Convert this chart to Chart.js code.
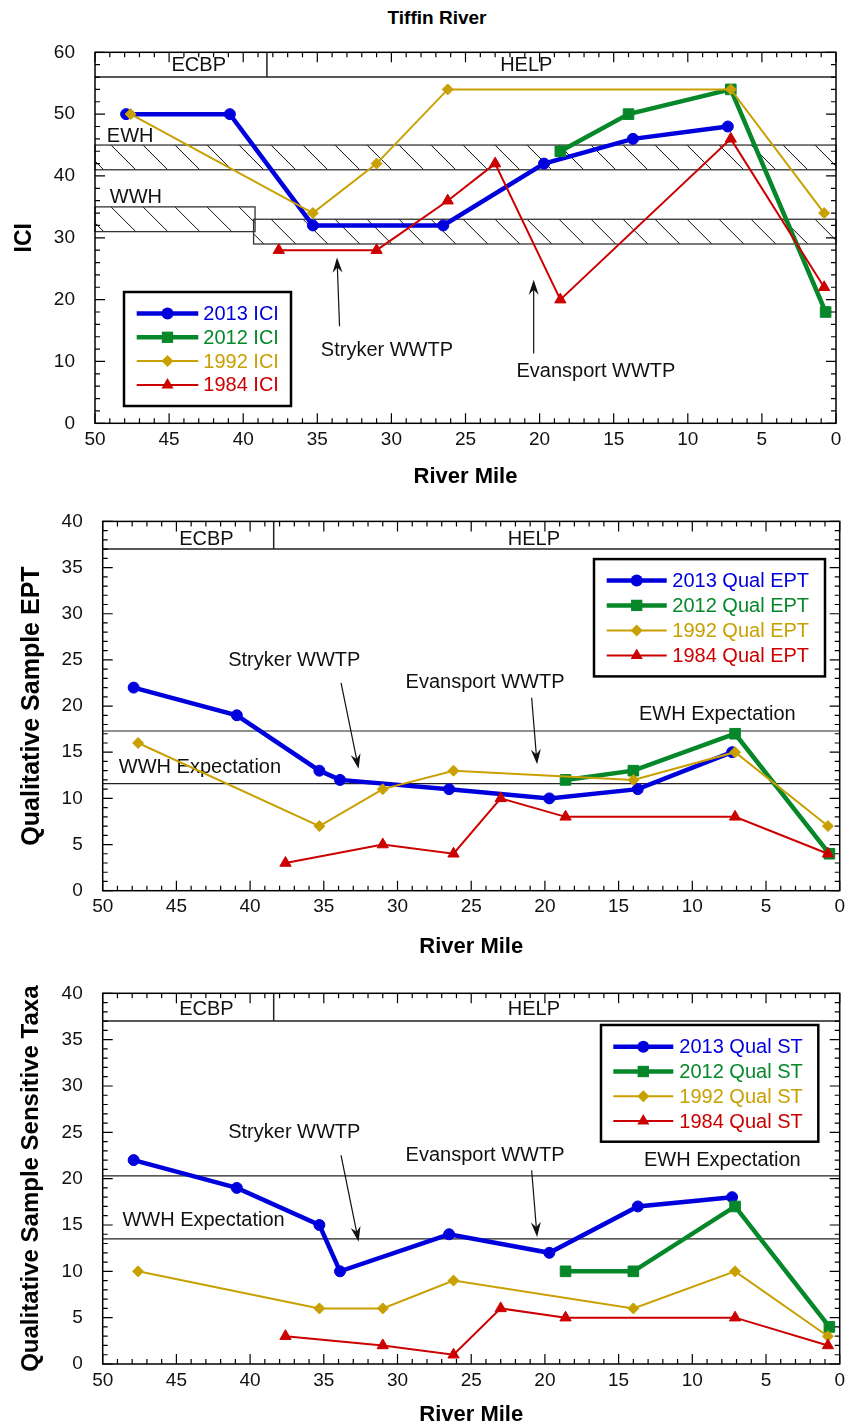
<!DOCTYPE html>
<html>
<head>
<meta charset="utf-8">
<title>Tiffin River</title>
<script src="https://cdn.jsdelivr.net/npm/chart.js@4.4.1/dist/chart.umd.min.js"></script>
<style>
  body { margin: 0; background: #fff; }
  #wrap { position: relative; width: 850px; height: 1428px; overflow: hidden; }
  #title { position: absolute; left: 0; width: 874px; top: 7px; text-align: center;
           font: bold 19px 'Liberation Sans', Arial, sans-serif; color: #000; }
  canvas { position: absolute; left: 0; }
</style>
</head>
<body>
<div id="wrap">
  <div id="title">Tiffin River</div>
  <canvas id="chartICI" width="850" height="490" style="top:0px"></canvas>
  <canvas id="chartEPT" width="850" height="470" style="top:490px"></canvas>
  <canvas id="chartST" width="850" height="468" style="top:960px"></canvas>
</div>
<script>
// river miles of the sites sampled in each survey
var mi2013 = [47.9, 40.9, 35.3, 26.5, 19.7, 13.7, 7.3];
var mi2013q = [47.9, 40.9, 35.3, 33.9, 26.5, 19.7, 13.7, 7.3];
var mi2012 = [18.6, 14.0, 7.1, 0.7];
var mi1992 = [47.6, 35.3, 31.0, 26.2, 7.1, 0.8];
var mi1992q = [47.6, 35.3, 31.0, 26.2, 14.0, 7.1, 0.8];
var mi1984 = [37.6, 31.0, 26.2, 23.0, 18.6, 7.1, 0.8];

// ICI scores
var ici2013 = [50, 50, 32, 32, 42, 46, 48];
var ici2012 = [44, 50, 54, 18];
var ici1992 = [50, 34, 42, 54, 54, 34];
var ici1984 = [28, 28, 36, 42, 20, 46, 22];

// qualitative sample EPT
var ept2013 = [22, 19, 13, 12, 11, 10, 11, 15];
var ept2012 = [12, 13, 17, 4];
var ept1992 = [16, 7, 11, 13, 12, 15, 7];
var ept1984 = [3, 5, 4, 10, 8, 8, 4];

// qualitative sample sensitive taxa
var st2013 = [22, 19, 15, 10, 14, 12, 17, 18];
var st2012 = [10, 10, 17, 4];
var st1992 = [10, 6, 6, 9, 6, 10, 3];
var st1984 = [3, 2, 1, 6, 5, 5, 2];

// biocriteria: [low, high] bands for ICI, expectation lines for EPT / ST
var iciEWH = [41, 45];
var iciWWH_ECBP = [31, 35];
var iciWWH_HELP = [29, 33];
var eptExpect = [17.3, 11.6];   // EWH, WWH
var stExpect = [20.3, 13.5];    // EWH, WWH
var ecoregions = ['ECBP', 'HELP'];
var ecoSplitMile = 38.4;

var FONT = "'Liberation Sans', Arial, sans-serif";
Chart.defaults.font.family = FONT;
Chart.defaults.color = '#000';

var BLUE = '#0000dd', GREEN = '#06882a', GOLD = '#c9a002', RED = '#cc0000';

function pts(miles, vals) {
  return miles.map(function (m, i) { return { x: m, y: vals[i] }; });
}

function series(label, miles, vals, color, shape, lw, r, order) {
  return {
    label: label,
    data: pts(miles, vals),
    borderColor: color,
    backgroundColor: color,
    borderWidth: lw,
    pointStyle: shape,
    pointRadius: r,
    pointBackgroundColor: color,
    pointBorderColor: color,
    pointBorderWidth: 1,
    tension: 0,
    order: order
  };
}

function marker(ctx, shape, x, y, r, color) {
  ctx.fillStyle = color;
  ctx.beginPath();
  if (shape === 'circle') {
    ctx.arc(x, y, r, 0, Math.PI * 2);
  } else if (shape === 'rect') {
    var s = Math.SQRT1_2 * r;
    ctx.rect(x - s, y - s, 2 * s, 2 * s);
  } else if (shape === 'rectRot') {
    ctx.moveTo(x - r, y); ctx.lineTo(x, y - r); ctx.lineTo(x + r, y); ctx.lineTo(x, y + r);
    ctx.closePath();
  } else {
    ctx.moveTo(x, y - r);
    ctx.lineTo(x + r * Math.sin(2 * Math.PI / 3), y - r * Math.cos(2 * Math.PI / 3));
    ctx.lineTo(x + r * Math.sin(4 * Math.PI / 3), y - r * Math.cos(4 * Math.PI / 3));
    ctx.closePath();
  }
  ctx.fill();
}

var decor = {
  id: 'decor',
  beforeDatasetsDraw: function (chart, args, o) {
    var ctx = chart.ctx, a = chart.chartArea, sx = chart.scales.x, sy = chart.scales.y;
    ctx.save();

    // hatched criteria bands
    (o.bands || []).forEach(function (b) {
      var x1 = sx.getPixelForValue(b.from), x2 = sx.getPixelForValue(b.to);
      var top = sy.getPixelForValue(b.range[1]), bot = sy.getPixelForValue(b.range[0]);
      var l = Math.min(x1, x2), r = Math.max(x1, x2), h = bot - top;
      ctx.save();
      ctx.beginPath(); ctx.rect(l, top, r - l, h); ctx.clip();
      ctx.strokeStyle = '#111'; ctx.lineWidth = 1;
      ctx.beginPath();
      for (var x = a.left + 16 - 32 * Math.ceil(h / 32 + 1); x < r; x += 32) {
        ctx.moveTo(x, top); ctx.lineTo(x + h, bot);
      }
      ctx.stroke();
      ctx.restore();
      ctx.strokeStyle = '#333'; ctx.lineWidth = 1.3;
      ctx.strokeRect(l, top, r - l, h);
    });

    // expectation lines
    ctx.strokeStyle = '#222'; ctx.lineWidth = 1.2;
    (o.hlines || []).forEach(function (v) {
      var y = sy.getPixelForValue(v);
      ctx.beginPath(); ctx.moveTo(a.left, y); ctx.lineTo(a.right, y); ctx.stroke();
    });

    // ecoregion strip
    var ey = sy.getPixelForValue(o.ecoTop), ex = sx.getPixelForValue(ecoSplitMile);
    ctx.strokeStyle = '#222'; ctx.lineWidth = 1.5;
    ctx.beginPath();
    ctx.moveTo(a.left, ey); ctx.lineTo(a.right, ey);
    ctx.moveTo(ex, ey); ctx.lineTo(ex, a.top);
    ctx.stroke();

    // labels
    ctx.fillStyle = '#111';
    ctx.font = '20px ' + FONT;
    ctx.textBaseline = 'middle';
    (o.labels || []).forEach(function (t) {
      ctx.textAlign = t.align || 'center';
      ctx.fillText(t.text, sx.getPixelForValue(t.x), sy.getPixelForValue(t.y));
    });

    // arrows
    (o.arrows || []).forEach(function (ar) {
      var x0 = sx.getPixelForValue(ar.from[0]), y0 = sy.getPixelForValue(ar.from[1]);
      var x1 = sx.getPixelForValue(ar.to[0]), y1 = sy.getPixelForValue(ar.to[1]);
      var len = Math.hypot(x1 - x0, y1 - y0), dx = (x1 - x0) / len, dy = (y1 - y0) / len;
      var nx = -dy, ny = dx;
      ctx.strokeStyle = '#111'; ctx.lineWidth = 1.2;
      ctx.beginPath(); ctx.moveTo(x0, y0); ctx.lineTo(x1 - dx * 8, y1 - dy * 8); ctx.stroke();
      ctx.fillStyle = '#111';
      ctx.beginPath();
      ctx.moveTo(x1, y1);
      ctx.lineTo(x1 - dx * 15 + nx * 5, y1 - dy * 15 + ny * 5);
      ctx.lineTo(x1 - dx * 10, y1 - dy * 10);
      ctx.lineTo(x1 - dx * 15 - nx * 5, y1 - dy * 15 - ny * 5);
      ctx.closePath();
      ctx.fill();
    });
    ctx.restore();
  },
  afterDatasetsDraw: function (chart, args, o) {
    var ctx = chart.ctx, a = chart.chartArea, sx = chart.scales.x, sy = chart.scales.y;
    ctx.save();
    // frame
    ctx.strokeStyle = '#000'; ctx.lineWidth = 1.5;
    ctx.strokeRect(a.left, a.top, a.right - a.left, a.bottom - a.top);

    // inward ticks on all four sides
    ctx.lineWidth = 1.2;
    ctx.beginPath();
    for (var m = 0; m <= 50; m++) {
      var x = sx.getPixelForValue(m), len = m % 5 === 0 ? 10 : 5;
      ctx.moveTo(x, a.bottom); ctx.lineTo(x, a.bottom - len);
      ctx.moveTo(x, a.top); ctx.lineTo(x, a.top + len);
    }
    for (var v = 0; v <= sy.max + 1e-9; v += o.yMinor) {
      var y = sy.getPixelForValue(v), l2 = Math.abs(v % o.yMajor) < 1e-9 ? 10 : 5;
      ctx.moveTo(a.left, y); ctx.lineTo(a.left + l2, y);
      ctx.moveTo(a.right, y); ctx.lineTo(a.right - l2, y);
    }
    ctx.stroke();

    // legend box
    var lg = o.legend;
    var bx = a.left + lg.x, by = a.top + lg.y;
    ctx.fillStyle = '#fff';
    ctx.fillRect(bx, by, lg.w, lg.h);
    ctx.strokeStyle = '#000'; ctx.lineWidth = 2.5;
    ctx.strokeRect(bx, by, lg.w, lg.h);
    ctx.font = '20px ' + FONT;
    ctx.textAlign = 'left'; ctx.textBaseline = 'middle';
    chart.data.datasets.forEach(function (ds, i) {
      var ry = by + lg.row0 + i * lg.rowStep;
      ctx.strokeStyle = ds.borderColor; ctx.lineWidth = ds.borderWidth;
      ctx.beginPath(); ctx.moveTo(bx + lg.line[0], ry); ctx.lineTo(bx + lg.line[1], ry); ctx.stroke();
      marker(ctx, ds.pointStyle, bx + (lg.line[0] + lg.line[1]) / 2, ry, ds.pointRadius + 0.5, ds.borderColor);
      ctx.fillStyle = ds.borderColor;
      ctx.fillText(ds.label, bx + lg.text, ry + 1);
    });
    ctx.restore();
  }
};

function buildChart(id, cfg) {
  return new Chart(document.getElementById(id), {
    type: 'line',
    data: { datasets: cfg.datasets },
    plugins: [decor],
    options: {
      responsive: false,
      animation: false,
      events: [],
      layout: { padding: { top: cfg.padTop, right: cfg.padRight, left: 0, bottom: 0 } },
      plugins: {
        legend: { display: false },
        tooltip: { enabled: false },
        decor: cfg.decor
      },
      scales: {
        x: {
          type: 'linear', reverse: true, min: 0, max: 50,
          grid: { display: false, drawTicks: false },
          border: { display: false },
          ticks: { stepSize: 5, padding: 5, autoSkip: false, maxRotation: 0, font: { size: 19 }, color: '#111' },
          title: { display: true, text: 'River Mile', font: { size: 22, weight: 'bold' }, padding: { top: cfg.xTitlePad, bottom: 0 }, color: '#000' },
          afterFit: function (s) { s.height = cfg.xHeight; }
        },
        y: {
          min: 0, max: cfg.yMax,
          grid: { display: false, drawTicks: false },
          border: { display: false },
          ticks: { stepSize: cfg.yStep, padding: 20, font: { size: 19 }, color: '#111' },
          title: { display: true, text: cfg.yTitle, font: { size: cfg.yTitleSize, weight: 'bold' }, padding: { top: cfg.yTitlePad, bottom: 0 }, color: '#000' },
          afterFit: function (s) { s.width = cfg.yWidth; }
        }
      }
    }
  });
}

function fourSeries(suffix, v2013, m2013, v2012, v1992, m1992, v1984) {
  return [
    series('2013 ' + suffix, m2013, v2013, BLUE, 'circle', 4.5, 5.5, 4),
    series('2012 ' + suffix, mi2012, v2012, GREEN, 'rect', 4.5, 7.5, 3),
    series('1992 ' + suffix, m1992, v1992, GOLD, 'rectRot', 2, 5.5, 2),
    series('1984 ' + suffix, mi1984, v1984, RED, 'triangle', 2, 6.5, 1)
  ];
}

buildChart('chartICI', {
  datasets: fourSeries('ICI', ici2013, mi2013, ici2012, ici1992, mi1992, ici1984),
  padTop: 52.3, padRight: 14, xHeight: 66.7, yWidth: 95, xTitlePad: 2, yTitlePad: 11,
  yMax: 60, yStep: 10, yTitle: 'ICI', yTitleSize: 23,
  decor: {
    yMinor: 2, yMajor: 10, ecoTop: 56,
    bands: [
      { from: 50, to: 0, range: iciEWH },
      { from: 50, to: 39.2, range: iciWWH_ECBP },
      { from: 39.3, to: 0, range: iciWWH_HELP }
    ],
    labels: [
      { text: ecoregions[0], x: 43.0, y: 57.8 },
      { text: ecoregions[1], x: 20.9, y: 57.8 },
      { text: 'EWH', x: 49.2, y: 46.4, align: 'left' },
      { text: 'WWH', x: 49.0, y: 36.6, align: 'left' },
      { text: 'Stryker WWTP', x: 30.3, y: 11.8 },
      { text: 'Evansport WWTP', x: 16.2, y: 8.4 }
    ],
    arrows: [
      { from: [33.5, 15.7], to: [33.67, 26.8] },
      { from: [20.4, 11.3], to: [20.4, 23.2] }
    ],
    legend: { x: 29, y: 239.7, w: 167, h: 114, row0: 21.5, rowStep: 23.8, line: [12.7, 74.3], text: 79.3 }
  }
});

buildChart('chartEPT', {
  datasets: fourSeries('Qual EPT', ept2013, mi2013q, ept2012, ept1992, mi1992q, ept1984),
  padTop: 30, padRight: 8.3, xHeight: 69.3, yWidth: 102.7, xTitlePad: 5, yTitlePad: 17,
  yMax: 40, yStep: 5, yTitle: 'Qualitative Sample EPT', yTitleSize: 25,
  decor: {
    yMinor: 1, yMajor: 5, ecoTop: 37,
    hlines: eptExpect,
    labels: [
      { text: ecoregions[0], x: 42.96, y: 38 },
      { text: ecoregions[1], x: 20.75, y: 38 },
      { text: 'Stryker WWTP', x: 37.0, y: 24.9 },
      { text: 'Evansport WWTP', x: 24.06, y: 22.6 },
      { text: 'EWH Expectation', x: 8.3, y: 19.1 },
      { text: 'WWH Expectation', x: 43.4, y: 13.4 }
    ],
    arrows: [
      { from: [33.83, 22.5], to: [32.64, 13.2] },
      { from: [20.9, 20.9], to: [20.53, 13.7] }
    ],
    legend: { x: 491.3, y: 37.7, w: 231, h: 117.3, row0: 21.3, rowStep: 25, line: [12.7, 72.7], text: 78.3 }
  }
});

buildChart('chartST', {
  datasets: fourSeries('Qual ST', st2013, mi2013q, st2012, st1992, mi1992q, st1984),
  padTop: 33.3, padRight: 8.3, xHeight: 64, yWidth: 102.7, xTitlePad: 1, yTitlePad: 17,
  yMax: 40, yStep: 5, yTitle: 'Qualitative Sample Sensitive Taxa', yTitleSize: 24,
  decor: {
    yMinor: 1, yMajor: 5, ecoTop: 37,
    hlines: stExpect,
    labels: [
      { text: ecoregions[0], x: 42.96, y: 38.3 },
      { text: ecoregions[1], x: 20.75, y: 38.3 },
      { text: 'Stryker WWTP', x: 37.0, y: 24.95 },
      { text: 'Evansport WWTP', x: 24.06, y: 22.5 },
      { text: 'EWH Expectation', x: 7.96, y: 22.0 },
      { text: 'WWH Expectation', x: 43.16, y: 15.5 }
    ],
    arrows: [
      { from: [33.83, 22.5], to: [32.64, 13.2] },
      { from: [20.9, 20.9], to: [20.53, 13.7] }
    ],
    legend: { x: 498.3, y: 31.7, w: 217.3, h: 116.7, row0: 21.7, rowStep: 24.8, line: [12.3, 72.3], text: 78.3 }
  }
});
</script>
</body>
</html>
